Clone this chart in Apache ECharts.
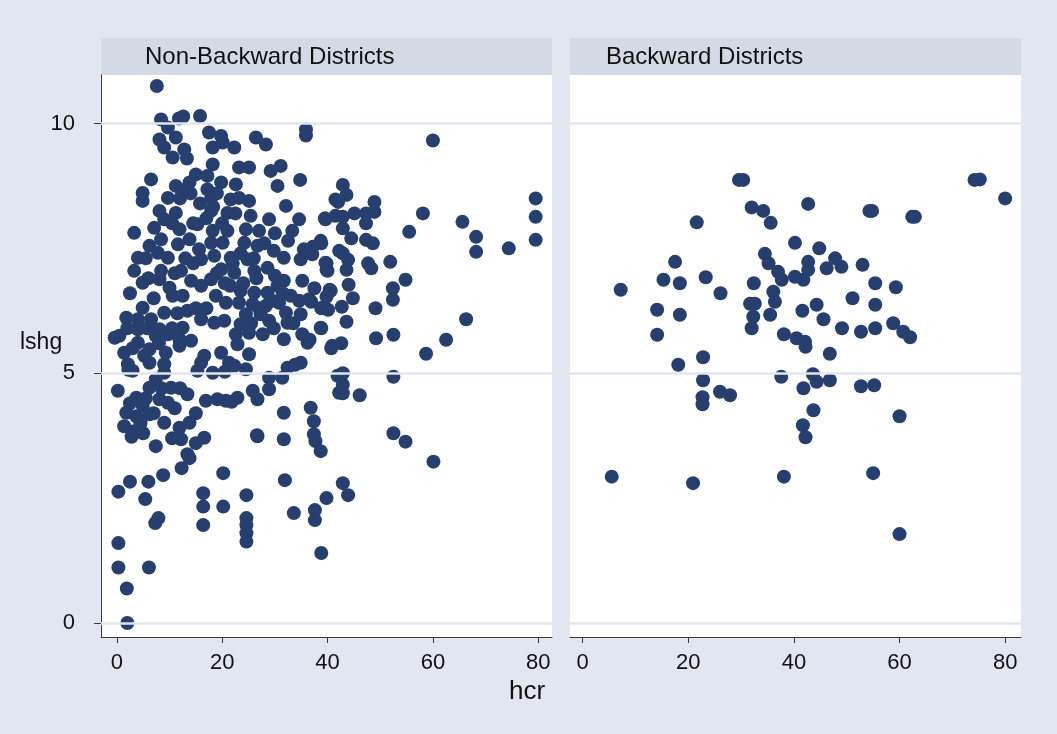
<!DOCTYPE html>
<html>
<head>
<meta charset="utf-8">
<script src="https://cdn.jsdelivr.net/npm/echarts@6/dist/echarts.min.js"></script>
<style>
  html, body { margin: 0; padding: 0; background: #e1e6f0; }
  #chart { width: 1057px; height: 734px; }
</style>
</head>
<body>
<div id="chart"></div>
<script>
// Panel titles, axis titles and tick values
const panelTitles = ['Non-Backward Districts', 'Backward Districts'];
const xTitle = 'hcr';
const yTitle = 'lshg';
const xTicks = [0, 20, 40, 60, 80];
const yTicks = [0, 5, 10];

// [hcr, lshg] for non-backward districts
const nonBackward = [
  [7.6,10.75],[8.4,10.08],[11.8,10.1],[12.6,10.14],[15.8,10.15],[9.7,9.92],[8.1,9.68],[11.2,9.72],
  [9.0,9.52],[12.8,9.48],[10.6,9.32],[13.3,9.30],[17.5,9.82],[18.2,9.52],[18.2,9.18],[15.0,8.98],
  [13.8,8.82],[11.2,8.75],[13.1,8.68],[17.2,8.95],[17.2,8.68],[6.5,8.88],[4.9,8.61],[4.9,8.45],
  [9.7,8.51],[17.9,8.51],[8.1,8.25],[11.2,8.21],[9.0,8.08],[17.9,8.25],[18.3,8.33],[3.3,7.81],
  [7.1,7.91],[11.9,7.88],[15.3,7.98],[18.2,7.85],[8.4,7.68],[11.6,7.58],[13.8,7.68],[6.2,7.55],
  [4.0,7.31],[7.8,7.41],[9.7,7.31],[15.6,7.48],[16.0,7.28],[17.9,7.61],[18.5,7.35],
  [35.9,9.88],[35.9,9.76],[26.4,9.72],[28.3,9.58],[22.3,9.52],[19.8,9.75],[20.1,9.62],[23.2,9.12],
  [25.1,9.12],[29.2,9.05],[31.1,9.15],[34.8,8.87],[30.5,8.75],[22.6,8.78],[19.8,8.82],[23.2,8.51],
  [25.1,8.45],[21.6,8.48],[32.1,8.35],[41.5,8.48],[41.5,8.15],[21.0,8.21],[25.4,8.15],[28.9,8.08],
  [34.6,8.08],[39.6,8.08],[21.0,7.85],[24.5,7.88],[27.0,7.85],[33.3,7.85],[20.1,7.61],[24.2,7.61],
  [26.7,7.55],[32.5,7.65],[29.8,7.45],[35.5,7.48],[38.7,7.65],[42.2,7.45],[21.6,7.31],[24.8,7.28],
  [31.7,7.31],[34.9,7.28],[37.1,7.38],[39.6,7.21],
  [20.0,8.0],[23.5,7.4],[26.0,7.3],[28.0,7.6],[30.0,7.8],[22.5,8.2],[17.0,8.1],[14.5,8.0],
  [10.5,8.0],[12.0,8.5],[14.0,8.6],[15.8,8.4],[19.0,8.6],
  [3.3,7.05],[4.9,6.81],[8.1,6.88],[10.0,6.71],[10.6,6.55],[12.5,6.55],[14.1,6.85],[16.0,6.75],
  [17.9,6.88],[18.8,6.55],[8.4,7.05],[12.2,7.05],[4.9,6.31],[1.8,6.11],[4.0,6.08],[6.5,6.08],
  [9.0,6.21],[13.4,6.25],[16.0,6.08],[18.5,6.01],[8.1,5.88],[4.0,5.88],[0.5,5.75],[-0.4,5.71],
  [12.5,5.91],[7.4,5.75],[9.7,5.78],[11.9,5.68],[14.1,5.65],[4.0,5.61],[6.2,5.48],[1.4,5.41],
  [5.2,5.35],[9.3,5.41],[11.9,5.55],[16.6,5.35],[6.2,5.21],[2.1,5.18],[9.0,5.18],[16.0,5.21],
  [3.0,5.05],[2.2,5.07],[9.0,5.01],[15.3,5.05],[18.2,5.01],[7.4,4.88],[0.2,4.65],[6.2,4.71],
  [10.3,4.71],[13.4,4.58],[3.7,4.51],[8.1,4.48],[9.7,4.41],[16.9,4.45],[19.1,4.48],[4.9,4.35],
  [1.8,4.21],[3.7,4.14],[6.2,4.18],[1.4,3.94],[3.3,3.84],[2.8,3.73],[9.0,4.01],[11.9,3.91],
  [13.8,4.01],[12.2,3.68],[16.6,3.71],[7.4,3.54],[13.4,3.38],
  [2.5,6.6],[6.0,6.9],[5.5,7.3],[2.0,5.9],[3.0,5.5],[5.8,5.9],[8.0,5.6],[7.0,6.5],
  [11.5,6.2],[10.5,5.9],[15.0,6.3],[17.0,6.3],[13.0,7.3],[19.0,7.0],
  [2.5,4.4],[5.5,4.5],[4.5,4.0],[7.0,4.2],[8.5,4.7],[11.0,4.3],[12.0,4.7],[5.0,3.8],
  [10.5,3.7],[15.0,4.2],[15.0,3.6],
  [19.8,7.08],[22.3,7.01],[26.1,7.05],[28.6,7.11],[31.7,6.85],[35.2,6.85],[40.0,7.05],[40.6,6.65],
  [23.5,6.65],[26.1,6.61],[28.6,6.61],[30.5,6.75],[20.7,6.41],[23.2,6.41],[25.8,6.38],[28.3,6.35],
  [30.8,6.41],[34.6,6.45],[36.5,6.48],[39.0,6.31],[24.5,6.18],[27.3,6.18],[32.1,6.21],[34.9,6.18],
  [20.4,6.05],[23.5,5.98],[28.9,6.05],[32.4,6.01],[38.7,5.91],[22.6,5.78],[25.1,5.81],[27.7,5.78],
  [31.7,5.68],[35.2,5.78],[36.2,5.61],[40.9,5.55],[22.9,5.58],[25.1,5.38],[19.8,5.41],[21.3,5.21],
  [24.5,5.08],[22.3,5.15],[20.5,5.03],[32.4,5.11],[34.9,5.21],[33.8,5.17],[28.9,4.91],[31.4,4.91],
  [28.9,4.68],[25.8,4.65],[26.7,4.48],[22.9,4.51],[21.8,4.43],[20.7,4.45],[41.9,4.95],[42.2,4.61],
  [31.7,4.21],[36.8,4.31],[37.4,4.04],[37.4,3.78],[37.7,3.64],[26.7,3.74],[31.7,3.68],[38.7,3.44],
  [26.5,6.9],[29.5,6.45],[31.5,6.6],[27.0,6.3],[30.0,6.95],[33.0,6.55],[24.0,6.8],[21.5,6.75],
  [25.5,6.0],[29.8,5.9],[33.5,6.0],[37.5,6.7],[22.0,7.2],[20.5,6.8],[14.5,7.2],[11.0,7.0],
  [0.3,2.63],[2.5,2.83],[6.0,2.83],[5.4,2.48],[8.8,2.96],[7.3,2.0],[7.9,2.10],[0.3,1.60],
  [0.3,1.11],[6.1,1.11],[1.9,0.69],[2.0,0.0],[12.3,3.1],[13.8,3.3],[16.4,2.60],[16.4,2.33],
  [16.4,1.96],[20.2,3.0],[20.2,2.33],[24.6,2.56],[24.6,2.10],[24.6,1.96],[24.6,1.80],[24.6,1.63],
  [26.6,3.76],[31.9,2.86],[33.6,2.20],[37.6,2.26],[37.6,2.06],[38.8,1.40],
  [60.0,9.66],[42.9,8.77],[43.6,8.57],[42.0,8.43],[48.9,8.43],[48.9,8.23],[58.1,8.20],[65.6,8.03],
  [79.5,8.5],[79.5,8.13],[79.5,7.67],[55.5,7.83],[68.2,7.73],[68.2,7.43],[74.4,7.50],[39.5,8.10],
  [42.9,8.13],[45.1,8.2],[47.3,8.2],[47.3,8.0],[42.9,7.9],[44.5,7.70],[38.8,7.6],[37.2,7.53],
  [47.3,7.67],[48.6,7.6],[42.9,7.40],[43.9,7.27],[43.6,7.07],[39.8,7.2],[39.8,7.07],[47.7,7.2],
  [48.3,7.1],[51.9,7.23],[54.8,6.87],[52.4,6.70],[52.4,6.47],[40.4,6.67],[39.8,6.53],[44.0,6.77],
  [44.8,6.5],[36.9,6.43],[38.8,6.30],[40.1,6.27],[42.7,6.33],[49.1,6.30],[66.3,6.08],[43.6,6.03],
  [38.8,5.90],[49.2,5.70],[52.5,5.77],[62.5,5.67],[36.6,5.67],[40.7,5.50],[42.6,5.6],[58.7,5.39],
  [42.9,5.0],[42.9,4.77],[42.9,4.6],[46.1,4.56],[52.5,4.93],[52.5,3.8],[54.8,3.63],[60.1,3.23],
  [42.9,2.80],[43.9,2.56],[39.8,2.5]
];

// [hcr, lshg] for backward districts
const backward = [
  [29.6,8.87],[30.4,8.87],[74.2,8.87],[75.2,8.88],[80.0,8.50],[32.0,8.32],[34.2,8.25],[42.7,8.39],
  [54.3,8.25],[54.8,8.25],[62.4,8.13],[62.9,8.13],[21.6,8.02],[35.6,8.01],[40.2,7.61],[44.8,7.50],
  [34.5,7.39],[35.2,7.20],[37.0,7.03],[37.7,6.87],[42.7,7.23],[42.7,7.07],[40.2,6.93],[41.8,6.87],
  [47.8,7.30],[49.0,7.13],[46.2,7.10],[53.0,7.17],[17.5,7.23],[15.3,6.87],[18.4,6.80],[23.3,6.92],
  [7.2,6.67],[26.1,6.60],[32.4,6.80],[36.1,6.63],[36.4,6.43],[55.4,6.80],[59.3,6.72],[51.1,6.50],
  [44.3,6.37],[41.6,6.25],[55.4,6.37],[31.7,6.39],[32.6,6.39],[32.3,6.13],[35.5,6.17],[14.1,6.27],
  [18.4,6.17],[32.0,5.90],[14.1,5.77],[38.1,5.78],[40.5,5.70],[42.1,5.63],[42.2,5.53],[45.6,6.08],
  [49.1,5.90],[52.7,5.83],[55.4,5.90],[58.8,6.0],[60.7,5.83],[62.0,5.72],[46.8,5.39],[22.8,5.32],
  [18.1,5.17],[37.6,4.93],[43.6,4.98],[44.3,4.83],[41.8,4.70],[46.8,4.86],[52.7,4.74],[55.2,4.76],
  [22.8,4.86],[26.0,4.63],[27.9,4.56],[22.7,4.52],[22.7,4.38],[43.7,4.26],[60.0,4.14],[41.7,3.96],
  [42.2,3.72],[5.5,2.93],[20.9,2.80],[38.1,2.93],[55.0,3.00],[60.0,1.78]
];

const panels = [
  { left: 101, min: -3.0, max: 82.6, data: nonBackward, showY: true, titleX: 145 },
  { left: 570, min: -2.4, max: 83.0, data: backward, showY: false, titleX: 606 }
];

const TOP = 75, PLOT_H = 562, PLOT_W = 451, HEAD_TOP = 38;
const MARKER = '#263f6e';
const GRIDLINE = '#e1e6f0';
const HEADER = '#d4dae5';
const AXIS = '#3a3a3a';
const SANS = "'Liberation Sans', Arial, sans-serif";

const chart = echarts.init(document.getElementById('chart'), null, { renderer: 'canvas' });

const grid = panels.map(p => ({
  left: p.left, top: TOP, width: PLOT_W, height: PLOT_H,
  show: true, backgroundColor: '#ffffff', borderWidth: 0, containLabel: false
}));

const xAxis = panels.map((p, i) => ({
  type: 'value', gridIndex: i, min: p.min, max: p.max,
  axisLine: { show: true, onZero: false, lineStyle: { color: AXIS, width: 1 } },
  axisTick: { show: true, length: 6, customValues: xTicks, lineStyle: { color: AXIS } },
  axisLabel: { customValues: xTicks, color: '#111', fontSize: 22, fontFamily: SANS, margin: 15 },
  splitLine: { show: false }
}));

const yAxis = panels.map((p, i) => ({
  type: 'value', gridIndex: i, min: -0.28, max: 10.97,
  axisLine: { show: p.showY, onZero: false, lineStyle: { color: AXIS, width: 1 } },
  axisTick: { show: p.showY, length: 7, customValues: yTicks, lineStyle: { color: AXIS } },
  axisLabel: { show: p.showY, customValues: yTicks, color: '#111', fontSize: 22, fontFamily: SANS, margin: 26 },
  splitLine: { show: false }
}));

const series = [];
panels.forEach((p, i) => {
  // horizontal grid lines at the y ticks, kept under the markers
  series.push({
    type: 'scatter', xAxisIndex: i, yAxisIndex: i, data: [], z: 1, silent: true,
    markLine: {
      silent: true, symbol: 'none', animation: false,
      label: { show: false },
      lineStyle: { color: GRIDLINE, width: 2.5, type: 'solid' },
      emphasis: { disabled: true },
      data: yTicks.map(v => ({ yAxis: v }))
    }
  });
  series.push({
    type: 'scatter', xAxisIndex: i, yAxisIndex: i, data: p.data, z: 3,
    symbol: 'circle', symbolSize: 14,
    itemStyle: { color: MARKER, opacity: 1 },
    emphasis: { disabled: true }
  });
});

const graphic = [];
panels.forEach((p, i) => {
  graphic.push({
    type: 'rect', left: p.left, top: HEAD_TOP, z: 0,
    shape: { width: PLOT_W, height: TOP - HEAD_TOP },
    style: { fill: HEADER }
  });
  graphic.push({
    type: 'text', x: p.titleX, y: (HEAD_TOP + TOP) / 2 + 1, z: 5,
    style: { text: panelTitles[i], fill: '#111', font: '24px ' + SANS, textVerticalAlign: 'middle', textAlign: 'left' }
  });
});
graphic.push({
  type: 'text', x: 20, y: 343, z: 5,
  style: { text: yTitle, fill: '#111', font: '23px ' + SANS, textVerticalAlign: 'middle', textAlign: 'left' }
});
graphic.push({
  type: 'text', x: 527, y: 692, z: 5,
  style: { text: xTitle, fill: '#111', font: '26px ' + SANS, textVerticalAlign: 'middle', textAlign: 'center' }
});

chart.setOption({
  backgroundColor: '#e1e6f0',
  animation: false,
  grid, xAxis, yAxis, series, graphic
});
</script>
</body>
</html>
